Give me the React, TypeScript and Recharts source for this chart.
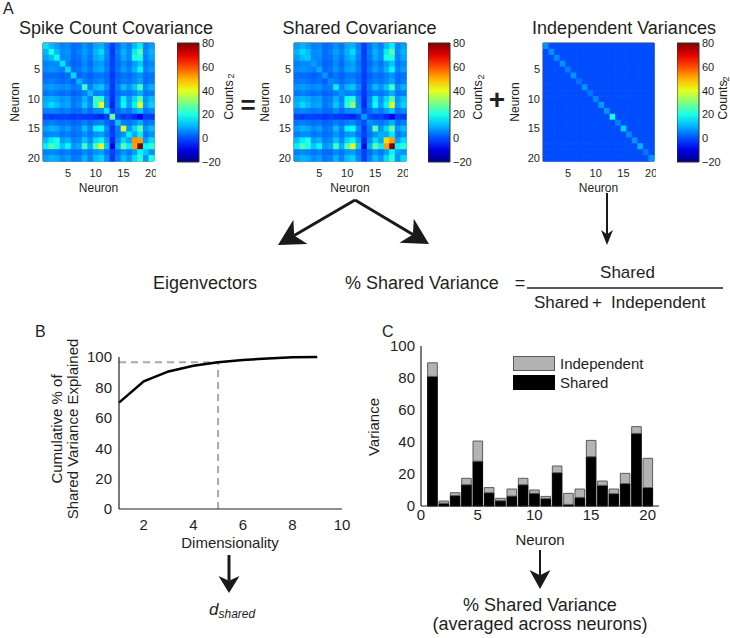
import React from "react";
import {
  ScatterChart,
  Scatter,
  BarChart,
  Bar,
  LineChart,
  Line,
  XAxis,
  YAxis,
  ReferenceArea,
  ReferenceLine,
  Legend,
} from "recharts";

const FONT = '"Liberation Sans", Arial, Helvetica, sans-serif';
const INK = "#231f20";

// ---- panel A data ----
const neurons = [1, 2, 3, 4, 5, 6, 7, 8, 9, 10, 11, 12, 13, 14, 15, 16, 17, 18, 19, 20];
const heatTicks = [5, 10, 15, 20];
const cMin = -20;
const cMax = 80;
const colorTicks = [-20, 0, 20, 40, 60, 80];

// shared covariance (counts^2), rows/cols = neurons 1..20
const sharedCov: number[][] = [
  [8, 10, 8, 5, 6, 3, 4, 7, 4, 9, 10, 5, -1, 4, 8, 5, 11, 16, 5, 8],
  [10, 14, 11, 6, 7, 3, 5, 8, 5, 10, 14, 6, -2, 5, 10, 6, 16, 26, 6, 10],
  [8, 11, 12, 6, 6, 3, 4, 7, 4, 9, 11, 5, -1, 4, 9, 6, 20, 20, 5, 9],
  [5, 6, 6, 8, 5, 2, 3, 6, 3, 7, 8, 4, -1, 3, 6, 4, 8, 12, 4, 6],
  [6, 7, 6, 5, 9, 3, 4, 7, 4, 8, 9, 5, -1, 4, 8, 5, 10, 17, 5, 8],
  [3, 3, 3, 2, 3, 7, 2, 4, 2, 4, 4, 3, -2, 2, 4, 3, 5, 7, 3, 4],
  [4, 5, 4, 3, 4, 2, 6, 5, 3, 5, 6, 3, -1, 3, 5, 4, 6, 9, 3, 5],
  [7, 8, 7, 6, 7, 4, 5, 16, 5, 10, 12, 6, -2, 5, 11, 7, 12, 24, 6, 10],
  [4, 5, 4, 3, 4, 2, 3, 5, 7, 5, 6, 3, -2, 3, 5, 4, 6, 10, 4, 5],
  [9, 10, 9, 7, 8, 4, 5, 10, 5, 18, 22, 6, -3, 5, 16, 7, 14, 26, 7, 11],
  [10, 14, 11, 8, 9, 4, 6, 12, 6, 22, 32, 7, -4, 6, 18, 8, 17, 40, 8, 13],
  [5, 6, 5, 4, 5, 3, 3, 6, 3, 6, 7, 8, -1, 3, 6, 4, 8, 12, 4, 6],
  [-1, -2, -1, -1, -1, -2, -1, -2, -2, -3, -4, -1, 8, 0, -2, -1, -4, -9, -1, -2],
  [4, 5, 4, 3, 4, 2, 3, 5, 3, 5, 6, 3, 0, 7, 5, 4, 6, 10, 3, 5],
  [8, 10, 9, 6, 8, 4, 5, 11, 5, 16, 18, 6, -2, 5, 26, 7, 14, 27, 7, 11],
  [5, 6, 6, 4, 5, 3, 4, 7, 4, 7, 8, 4, -1, 4, 7, 10, 9, 16, 4, 7],
  [11, 16, 20, 8, 10, 5, 6, 12, 6, 14, 17, 8, -4, 6, 14, 9, 46, 52, 8, 14],
  [16, 26, 20, 12, 17, 7, 9, 24, 10, 26, 40, 12, -9, 10, 27, 16, 52, 80, 17, 22],
  [5, 6, 5, 4, 5, 3, 3, 6, 4, 7, 8, 4, -1, 3, 7, 4, 8, 17, 8, 7],
  [8, 10, 9, 6, 8, 4, 5, 10, 5, 11, 13, 6, -2, 5, 11, 7, 14, 22, 7, 14],
];
// independent variances (diagonal)
const indepDiag = [7, 7, 6, 7, 5, 7, 4, 7, 4, 6, 8, 7, 20, 5, 13, 6, 7, 10, 4, 7];

// ---- panel B data ----
const dims = [1, 2, 3, 4, 5, 6, 7, 8, 9];
const cumShared = [70, 84, 90.5, 94.3, 96.6, 98, 99, 99.8, 100];
const dShared = 5;
const threshold = 96.6;

// ---- panel C data ----
const sharedVar = [81, 1.7, 6.5, 13.3, 28, 8.3, 3.3, 6.2, 13.3, 7.9, 4.6, 20.8, 1, 5.4, 30.8, 12.9, 7.7, 14, 45.4, 11.5];
const indepVar = [8.5, 1.4, 1.8, 4, 12.6, 3.2, 1.5, 4.4, 4, 2.1, 1.4, 4.2, 6.9, 5.2, 10.2, 2.7, 2.9, 6.4, 4.2, 18.3];

function jet(v: number) {
  const t = Math.min(1, Math.max(0, (v - cMin) / (cMax - cMin)));
  const ch = (k: number) => Math.round(255 * Math.min(1, Math.max(0, 1.5 - Math.abs(4 * t - k))));
  return `rgb(${ch(3)},${ch(2)},${ch(1)})`;
}

type Cell = { x: number; y: number; v: number };
function matrixCells(m: number[][]): Cell[] {
  const out: Cell[] = [];
  m.forEach((row, r) => row.forEach((v, c) => out.push({ x: neurons[c], y: neurons[r], v })));
  return out;
}

const totalCov = sharedCov.map((row, r) => row.map((v, c) => (r === c ? v + indepDiag[r] : v)));
const indepCov = sharedCov.map((row, r) => row.map((_, c) => (r === c ? indepDiag[r] : 0)));

const curveData = dims.map((d, i) => ({ d, c: cumShared[i] }));
const barData = neurons.map((n, i) => ({ n, shared: sharedVar[i], indep: indepVar[i] }));

const heatTick = { fontSize: 11, fill: INK };

function Heatmap({ px, py, pw, ph, cells }: { px: number; py: number; pw: number; ph: number; cells: Cell[] }) {
  const yw = 40;
  const xh = 30;
  const mt = 2;
  const mr = 2;
  const cw = pw / 20;
  const chh = ph / 20;
  return (
    <div style={{ position: "absolute", left: px - yw, top: py - mt }}>
      <ScatterChart width={yw + pw + mr} height={mt + ph + xh} margin={{ top: mt, right: mr, bottom: 0, left: 0 }}>
        <XAxis type="number" dataKey="x" domain={[0.5, 20.5]} ticks={heatTicks} interval={0} height={xh}
          tickSize={0} tickMargin={8} tick={heatTick} axisLine={false} />
        <YAxis type="number" dataKey="y" domain={[0.5, 20.5]} reversed ticks={heatTicks} interval={0} width={yw}
          tickSize={0} tickMargin={3} tick={heatTick} axisLine={false} />
        <Scatter
          data={cells}
          isAnimationActive={false}
          shape={(p: any) => (
            <rect x={p.cx - cw / 2} y={p.cy - chh / 2} width={cw + 0.6} height={chh + 0.6} fill={jet(p.payload.v)} />
          )}
        />
        <ReferenceArea x1={0.5} x2={20.5} y1={0.5} y2={20.5} fill="none" fillOpacity={0} stroke="#333" strokeWidth={1} ifOverflow="visible" />
      </ScatterChart>
    </div>
  );
}

function Colorbar({ left, top, h, id }: { left: number; top: number; h: number; id: string }) {
  const w = 22;
  const aw = 30;
  const stops = [0, 0.1, 0.2, 0.3, 0.4, 0.5, 0.6, 0.7, 0.8, 0.9, 1];
  return (
    <div style={{ position: "absolute", left, top: top - 8 }}>
      <BarChart width={w + aw} height={h + 16} data={[{ k: "c", r: [cMin, cMax] }]}
        margin={{ top: 8, bottom: 8, left: 0, right: 0 }} barCategoryGap={0}>
        <defs>
          <linearGradient id={id} x1="0" y1="1" x2="0" y2="0">
            {stops.map((s) => (
              <stop key={s} offset={s} stopColor={jet(cMin + s * (cMax - cMin))} />
            ))}
          </linearGradient>
        </defs>
        <XAxis dataKey="k" hide />
        <YAxis orientation="right" domain={[cMin, cMax]} ticks={colorTicks} interval={0} width={aw}
          tickSize={0} tickMargin={3} tick={heatTick} axisLine={false}
          tickFormatter={(v: number) => String(v).replace("-", "\u2212")} />
        <Bar dataKey="r" fill={`url(#${id})`} stroke="#333" strokeWidth={1} isAnimationActive={false} />
      </BarChart>
    </div>
  );
}

function Arrow({ x1, y1, x2, y2, w, len, half }: { x1: number; y1: number; x2: number; y2: number; w: number; len: number; half: number }) {
  const L = Math.hypot(x2 - x1, y2 - y1);
  const ux = (x2 - x1) / L;
  const uy = (y2 - y1) / L;
  const bx = x2 - ux * len;
  const by = y2 - uy * len;
  const kx = x2 - ux * len * 0.72;
  const ky = y2 - uy * len * 0.72;
  const pts = [
    [x2, y2],
    [bx - uy * half, by + ux * half],
    [kx, ky],
    [bx + uy * half, by - ux * half],
  ]
    .map((p) => p.join(","))
    .join(" ");
  return (
    <g>
      <line x1={x1} y1={y1} x2={kx} y2={ky} stroke="#1a1a1a" strokeWidth={w} />
      <polygon points={pts} fill="#1a1a1a" />
    </g>
  );
}

function LegendBox() {
  const items = [
    { label: "Independent", fill: "#b3b3b3", stroke: "#5a5a5a" },
    { label: "Shared", fill: "#000", stroke: "#000" },
  ];
  return (
    <div style={{ fontFamily: FONT }}>
      {items.map((it) => (
        <div key={it.label} style={{ display: "flex", alignItems: "center", height: 15, marginBottom: 4 }}>
          <div style={{ width: 40, height: 13, background: it.fill, border: `1px solid ${it.stroke}` }} />
          <span style={{ marginLeft: 5, fontSize: 15, color: INK }}>{it.label}</span>
        </div>
      ))}
    </div>
  );
}

const axTick = { fontSize: 15, fill: INK };

export default function App() {
  return (
    <div style={{ position: "absolute", left: 0, top: 0, width: 730, height: 638, background: "#fff", fontFamily: FONT, overflow: "hidden" }}>
      <Heatmap px={43} py={43} pw={111} ph={118} cells={matrixCells(totalCov)} />
      <Heatmap px={294} py={43} pw={112} ph={118} cells={matrixCells(sharedCov)} />
      <Heatmap px={543} py={43} pw={111} ph={118} cells={matrixCells(indepCov)} />
      <Colorbar left={177} top={43} h={119} id="jet1" />
      <Colorbar left={428} top={43} h={119} id="jet2" />
      <Colorbar left={677} top={43} h={119} id="jet3" />

      {/* B */}
      <div style={{ position: "absolute", left: 79, top: 347 }}>
        <LineChart width={273} height={192} data={curveData} margin={{ top: 10, right: 10, left: 0, bottom: 0 }}>
          <XAxis type="number" dataKey="d" domain={[1, 10]} ticks={[2, 4, 6, 8, 10]} interval={0} height={30}
            tickSize={0} tickMargin={10} tick={axTick} axisLine={{ stroke: INK, strokeWidth: 1.2 }} />
          <YAxis type="number" domain={[0, 100]} ticks={[0, 20, 40, 60, 80, 100]} interval={0} width={40}
            tickSize={0} tickMargin={7} tick={axTick} axisLine={{ stroke: INK, strokeWidth: 1.2 }} />
          <ReferenceLine segment={[{ x: 1, y: threshold }, { x: dShared, y: threshold }]} stroke="#a8a8a8" strokeWidth={2} strokeDasharray="7 5" />
          <ReferenceLine segment={[{ x: dShared, y: 0 }, { x: dShared, y: threshold }]} stroke="#a8a8a8" strokeWidth={2} strokeDasharray="7 5" />
          <Line type="linear" dataKey="c" stroke="#000" strokeWidth={2.5} dot={false} isAnimationActive={false} />
        </LineChart>
      </div>

      {/* C */}
      <div style={{ position: "absolute", left: 381, top: 336 }}>
        <BarChart width={288} height={200} data={barData} margin={{ top: 10, right: 10, left: 0, bottom: 0 }}>
          <XAxis type="number" dataKey="n" domain={[0, 21]} ticks={[0, 5, 10, 15, 20]} interval={0} height={30}
            tickSize={0} tickMargin={3} tick={axTick} axisLine={{ stroke: INK, strokeWidth: 1.2 }} />
          <YAxis type="number" domain={[0, 100]} ticks={[0, 20, 40, 60, 80, 100]} interval={0} width={40}
            tickSize={0} tickMargin={6} tick={axTick} axisLine={{ stroke: INK, strokeWidth: 1.2 }} />
          <Legend layout="horizontal" verticalAlign="middle" align="center" content={() => <LegendBox />}
            wrapperStyle={{ left: 132, top: 20, width: 160 }} />
          <Bar dataKey="shared" stackId="v" fill="#000" stroke="#000" strokeWidth={1} barSize={9.6} isAnimationActive={false} />
          <Bar dataKey="indep" stackId="v" fill="#b3b3b3" stroke="#5a5a5a" strokeWidth={1} barSize={9.6} isAnimationActive={false} />
        </BarChart>
      </div>

      <svg width={730} height={638} style={{ position: "absolute", left: 0, top: 0, pointerEvents: "none" }} fontFamily={FONT}>
        <g fill={INK}>
          <text x={3} y={14} fontSize={16}>A</text>
          <text x={35} y={337} fontSize={16}>B</text>
          <text x={382} y={337} fontSize={16}>C</text>

          <text x={116} y={33.5} fontSize={18} textAnchor="middle">Spike Count Covariance</text>
          <text x={359.5} y={33.5} fontSize={18} textAnchor="middle">Shared Covariance</text>
          <text x={624} y={33.5} fontSize={18} textAnchor="middle">Independent Variances</text>

          {[98.5, 350, 598.5].map((x) => (
            <text key={x} x={x} y={187.5} fontSize={12} textAnchor="middle" dominantBaseline="central">Neuron</text>
          ))}
          {[14.5, 265, 515].map((x) => (
            <text key={x} x={x} y={102} fontSize={12} textAnchor="middle" dominantBaseline="central" transform={`rotate(-90 ${x} 102)`}>Neuron</text>
          ))}
          {[
            [228.5, 231, 76],
            [478, 481, 77],
            [723, 726, 79],
          ].map(([x, sx, sy]) => (
            <g key={x}>
              <text x={x} y={100} fontSize={12.5} textAnchor="middle" dominantBaseline="central" transform={`rotate(-90 ${x} 100)`}>Counts</text>
              <text x={sx} y={sy} fontSize={9} textAnchor="middle" dominantBaseline="central" transform={`rotate(-90 ${sx} ${sy})`}>2</text>
            </g>
          ))}
          <text x={248} y={104.5} fontSize={26} fontWeight="bold" textAnchor="middle" dominantBaseline="central">=</text>
          <text x={497} y={99} fontSize={28} fontWeight="bold" textAnchor="middle" dominantBaseline="central">+</text>

          <text x={153} y={289} fontSize={18}>Eigenvectors</text>
          <text x={345} y={289} fontSize={18}>% Shared Variance</text>
          <text x={520} y={289} fontSize={18} textAnchor="middle">=</text>
          <text x={627.5} y={278} fontSize={17} textAnchor="middle">Shared</text>
          <text x={534} y={308} fontSize={17}>Shared</text>
          <text x={597} y={308} fontSize={17} textAnchor="middle">+</text>
          <text x={611} y={308} fontSize={17}>Independent</text>

          <text x={56} y={429} fontSize={15} textAnchor="middle" dominantBaseline="central" transform="rotate(-90 56 429)">Cumulative % of</text>
          <text x={72.5} y={429} fontSize={15} textAnchor="middle" dominantBaseline="central" transform="rotate(-90 72.5 429)">Shared Variance Explained</text>
          <text x={230} y={542} fontSize={15} textAnchor="middle" dominantBaseline="central">Dimensionality</text>
          <text x={209} y={615} fontSize={17} fontStyle="italic">
            d<tspan fontSize={12} dy={3}>shared</tspan>
          </text>

          <text x={373} y={427} fontSize={15} textAnchor="middle" dominantBaseline="central" transform="rotate(-90 373 427)">Variance</text>
          <text x={540} y={539} fontSize={15} textAnchor="middle" dominantBaseline="central">Neuron</text>
          <text x={540} y={611} fontSize={18} textAnchor="middle">% Shared Variance</text>
          <text x={540} y={630} fontSize={18} textAnchor="middle">(averaged across neurons)</text>
        </g>
        <line x1={527} y1={288} x2={723} y2={288} stroke={INK} strokeWidth={1.3} />

        <Arrow x1={355} y1={200} x2={278} y2={245} w={3} len={26} half={14} />
        <Arrow x1={355} y1={200} x2={429} y2={244} w={3} len={26} half={14} />
        <Arrow x1={607} y1={193} x2={607} y2={245} w={2} len={15} half={6} />
        <Arrow x1={229} y1={555} x2={229} y2={593} w={3} len={17} half={10.5} />
        <Arrow x1={540} y1={550} x2={540} y2={589} w={2} len={19} half={10.5} />
      </svg>
    </div>
  );
}
